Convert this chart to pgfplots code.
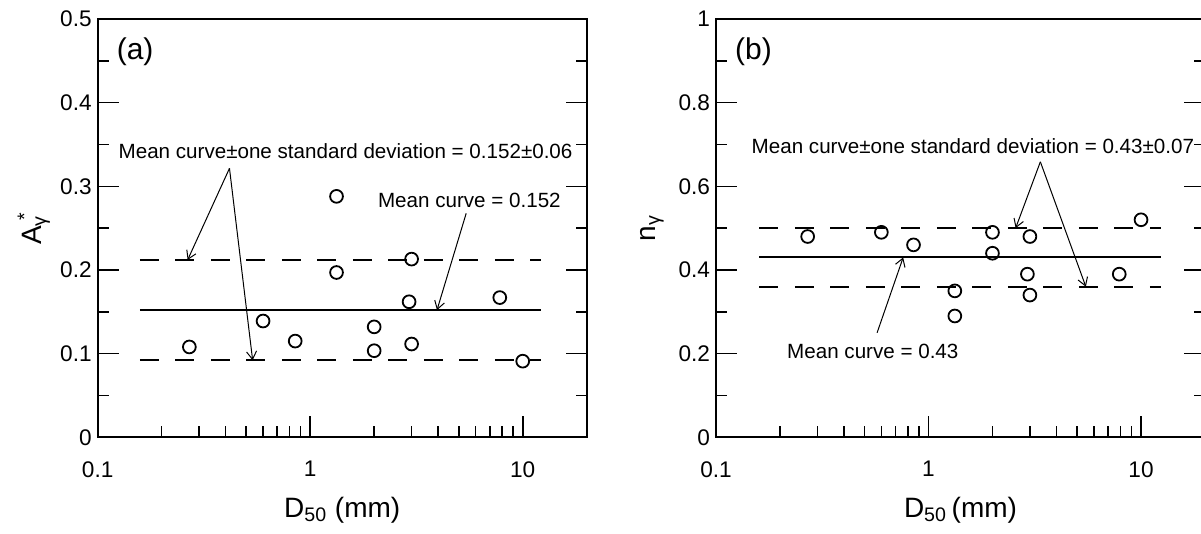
\documentclass[border=0pt]{standalone}
\usepackage{fontspec}
\setmainfont{Liberation Sans}
\usepackage{pgfplots}
\usepackage{pgfplotstable}
\pgfplotsset{compat=1.18}
\usetikzlibrary{arrows.meta}

% D50 (mm) against fitted coefficients
\pgfplotstableread{
d50   A
0.27  0.108
0.60  0.139
0.85  0.115
1.33  0.288
1.33  0.197
2.00  0.132
2.00  0.1035
2.92  0.162
3.00  0.213
3.00  0.1115
7.80  0.167
10.0  0.091
}\dataA

\pgfplotstableread{
d50   n
0.27  0.48
0.60  0.49
0.85  0.46
1.33  0.35
1.33  0.29
2.00  0.49
2.00  0.44
2.92  0.39
3.00  0.48
3.00  0.34
7.90  0.39
10.0  0.52
}\dataB

\tikzset{
  notetext/.style={font=\fontsize{10.3}{12}\selectfont, inner sep=0pt},
  paneltag/.style={font=\fontsize{15}{17}\selectfont, inner sep=0pt},
  callout/.style={black, line width=0.5pt, -{Straight Barb[length=4pt,width=5pt]}},
  meanline/.style={black, line width=1pt},
  bandline/.style={black, line width=1pt, dash pattern=on 9.5pt off 8.25pt},
}

\begin{document}
\begin{tikzpicture}
% (a) coefficient A
\begin{axis}[
  at={(0pt,0pt)}, anchor=south west,
  scale only axis, width=244.5pt, height=209.15pt,
  xmode=log, xmin=0.1, xmax=20,
  xtick={0.1,1,10}, xticklabels={0.1,1,10},
  minor xtick={0.2,0.3,0.4,0.5,0.6,0.7,0.8,0.9,2,3,4,5,6,7,8,9},
  ymin=0, ymax=0.5, ytick={0,0.1,0.2,0.3,0.4,0.5},
  minor ytick={0.05,0.15,0.25,0.35,0.45},
  xtick pos=left, ytick pos=both, tick align=inside,
  major tick length=10.5pt, minor tick length=5.5pt,
  every tick/.style={black, line width=0.8pt},
  axis line style={line width=1pt},
  tick label style={font=\fontsize{11.3}{13}\selectfont},
  xticklabel style={yshift=-8.5pt},
  yticklabel style={xshift=0.5pt},
  /pgf/number format/assume math mode=true,
  label style={font=\fontsize{14}{16}\selectfont},
  xlabel style={at={([yshift=-36.5pt]axis description cs:0.5,0)}, anchor=center},
  ylabel style={at={([xshift=-32pt]axis description cs:0,0.5)}, anchor=center},
  clip=false,
  xlabel={D\textsubscript{50} (mm)},
  ylabel={A\rlap{\textsubscript{γ}}\textsuperscript{\hspace{0.3em}*}}]
  \addplot[bandline] coordinates {(0.158,0.212) (12.2,0.212)};
  \addplot[meanline] coordinates {(0.158,0.152) (12.2,0.152)};
  \addplot[bandline] coordinates {(0.158,0.092) (12.2,0.092)};
  \addplot[only marks, mark=o, mark size=3.2pt, mark options={line width=0.9pt, black}]
    table[x=d50, y=A] {\dataA};
  \node[paneltag] at (axis cs:0.15,0.461) {(a)};
  \node[notetext] at (axis cs:1.467,0.342) {Mean curve±one standard deviation = 0.152±0.06};
  \node[notetext] at (axis cs:5.61,0.2828) {Mean curve = 0.152};
  \draw[callout] (axis cs:0.417,0.3215) -- (axis cs:0.265,0.212);
  \draw[callout] (axis cs:0.417,0.3215) -- (axis cs:0.536,0.092);
  \draw[callout] (axis cs:5.42,0.2677) -- (axis cs:3.95,0.152);
\end{axis}
% (b) exponent n
\begin{axis}[
  at={(309.15pt,0pt)}, anchor=south west,
  scale only axis, width=244.5pt, height=209.15pt,
  xmode=log, xmin=0.1, xmax=20,
  xtick={0.1,1,10}, xticklabels={0.1,1,10},
  minor xtick={0.2,0.3,0.4,0.5,0.6,0.7,0.8,0.9,2,3,4,5,6,7,8,9},
  ymin=0, ymax=1, ytick={0,0.2,0.4,0.6,0.8,1},
  minor ytick={0.1,0.3,0.5,0.7,0.9},
  xtick pos=left, ytick pos=both, tick align=inside,
  major tick length=10.5pt, minor tick length=5.5pt,
  every tick/.style={black, line width=0.8pt},
  axis line style={line width=1pt},
  tick label style={font=\fontsize{11.3}{13}\selectfont},
  xticklabel style={yshift=-8.5pt},
  yticklabel style={xshift=0.5pt},
  /pgf/number format/assume math mode=true,
  label style={font=\fontsize{14}{16}\selectfont},
  xlabel style={at={([yshift=-36.5pt]axis description cs:0.5,0)}, anchor=center},
  ylabel style={at={([xshift=-32pt]axis description cs:0,0.5)}, anchor=center},
  clip=false,
  xlabel={D\textsubscript{50}\,(mm)},
  ylabel={n\textsubscript{γ}}]
  \addplot[bandline] coordinates {(0.16,0.50) (12.4,0.50)};
  \addplot[meanline] coordinates {(0.16,0.43) (12.4,0.43)};
  \addplot[bandline] coordinates {(0.16,0.36) (12.4,0.36)};
  \addplot[only marks, mark=o, mark size=3.2pt, mark options={line width=0.9pt, black}]
    table[x=d50, y=n] {\dataB};
  \node[paneltag] at (axis cs:0.15,0.921) {(b)};
  \node[notetext] at (axis cs:1.618,0.695) {Mean curve±one standard deviation = 0.43±0.07};
  \node[notetext] at (axis cs:0.547,0.2045) {Mean curve = 0.43};
  \draw[callout] (axis cs:3.36,0.6586) -- (axis cs:2.57,0.50);
  \draw[callout] (axis cs:3.36,0.6586) -- (axis cs:5.5,0.36);
  \draw[callout] (axis cs:0.573,0.25) -- (axis cs:0.76,0.43);
\end{axis}
\pgfresetboundingbox
\path[use as bounding box] (-48.85pt,-48.35pt) rectangle (551.65pt,218.65pt);
\end{tikzpicture}
\end{document}
